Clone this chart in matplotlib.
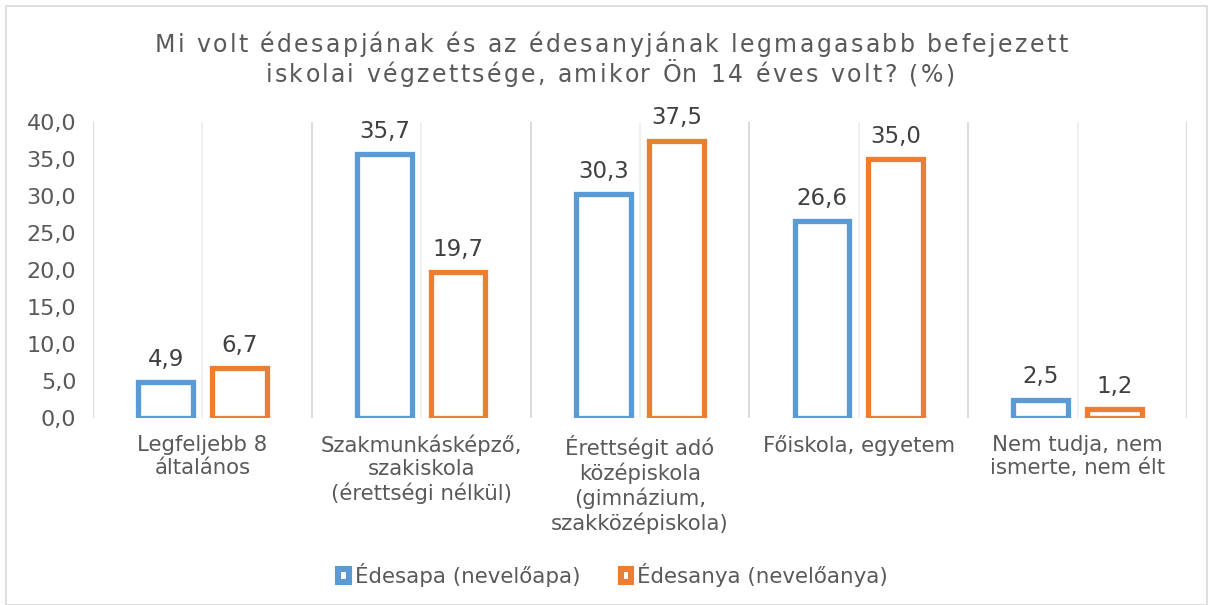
import matplotlib
matplotlib.use("Agg")
import matplotlib.pyplot as plt
import numpy as np
from matplotlib.patches import Patch, Rectangle
from matplotlib.font_manager import FontProperties

plt.rcParams['font.family'] = ['DejaVu Sans']

# data
categories = [
    "Legfeljebb 8\náltalános",
    "Szakmunkásképző,\nszakiskola\n(érettségi nélkül)",
    "Érettségit adó\nközépiskola\n(gimnázium,\nszakközépiskola)",
    "Főiskola, egyetem",
    "Nem tudja, nem\nismerte, nem élt",
]
father = [4.9, 35.7, 30.3, 26.6, 2.5]
mother = [6.7, 19.7, 37.5, 35.0, 1.2]
series_names = ["Édesapa (nevelőapa)", "Édesanya (nevelőanya)"]
yticks = [0, 5, 10, 15, 20, 25, 30, 35, 40]

title_lines = ["Mi volt édesapjának és az édesanyjának legmagasabb befejezett",
               "iskolai végzettsége, amikor Ön 14 éves volt? (%)"]

BLUE = "#5B9BD5"
ORANGE = "#ED7D31"
TXT = "#595959"
W, H = 1213, 605


def text_width(fig, s, fp):
    # width in pixels up to the end of s (trailing spaces counted)
    r = fig.canvas.get_renderer()
    w0 = r.get_text_width_height_descent("X", fp, ismath=False)[0]
    return r.get_text_width_height_descent(s + "X", fp, ismath=False)[0] - w0


def spaced_line(fig, text, xc, yb, fp, spacing, color):
    """One line of letter-spaced text, centred at xc, baseline at yb (pixels)."""
    total = text_width(fig, text, fp) + spacing * (len(text) - 1)
    x0 = xc - total / 2
    for i, ch in enumerate(text):
        if ch == " ":
            continue
        xp = x0 + text_width(fig, text[:i], fp) + spacing * i
        fig.text(xp / W, 1 - yb / H, ch, ha="left", va="baseline",
                 fontproperties=fp, color=color)


fig = plt.figure(figsize=(W / 100, H / 100), dpi=100)
ax = fig.add_axes([93 / W, 1 - 418 / H, 1094 / W, 296 / H])

x = np.arange(len(categories))
w = 0.25
off = 0.168

# vertical gridlines at category boundaries and centres
for b in np.arange(-0.5, len(categories), 1.0):
    ax.axvline(b, color="#d9d9d9", lw=1.3, zorder=0)
for c in x:
    ax.axvline(c, color="#efefef", lw=1.3, zorder=0)

for vals, dx, col in [(father, -off, BLUE), (mother, off, ORANGE)]:
    ax.bar(x + dx, vals, w, facecolor="white", edgecolor=col,
           linewidth=3.8, zorder=3)
    for xi, v in zip(x + dx, vals):
        ax.annotate(f"{v:.1f}".replace(".", ","), (xi, v), xytext=(0, 8),
                    textcoords="offset points", ha="center", va="bottom",
                    fontsize=16.5, color="#404040")

ax.set_xlim(-0.5, len(categories) - 0.5)
ax.set_ylim(0, 40)
ax.set_yticks(yticks)
ax.set_yticklabels([f"{t:.1f}".replace(".", ",") for t in yticks])
ax.set_xticks(x)
ax.set_xticklabels(categories, linespacing=1.2)
ax.tick_params(axis="x", length=0, labelsize=15.3, colors=TXT, pad=12)
ax.tick_params(axis="y", length=0, labelsize=16, colors=TXT, pad=12)
for s in ax.spines.values():
    s.set_visible(False)

# title with Excel-like letter spacing
tfp = FontProperties(family="DejaVu Sans", size=17)
sp = (913 - text_width(fig, title_lines[0], tfp)) / (len(title_lines[0]) - 1)
spaced_line(fig, title_lines[0], 611, 52, tfp, sp, TXT)
spaced_line(fig, title_lines[1], 610, 82, tfp, sp, TXT)

handles = [Patch(facecolor="white", edgecolor=BLUE, linewidth=4.4),
           Patch(facecolor="white", edgecolor=ORANGE, linewidth=4.4)]
fig.legend(handles, series_names, loc="center", bbox_to_anchor=(613 / W, 1 - 575 / H),
           ncol=2, frameon=False, fontsize=15.4, handlelength=0.5, handleheight=0.5,
           handletextpad=0.28, columnspacing=1.9, labelcolor=TXT)

# outer chart border
fig.add_artist(Rectangle((6 / W, 0.0), 1 - 12 / W, 1 - 6 / H,
                         transform=fig.transFigure, fill=False,
                         edgecolor="#d9d9d9", lw=1.2))

fig.savefig("out.png", dpi=100)
